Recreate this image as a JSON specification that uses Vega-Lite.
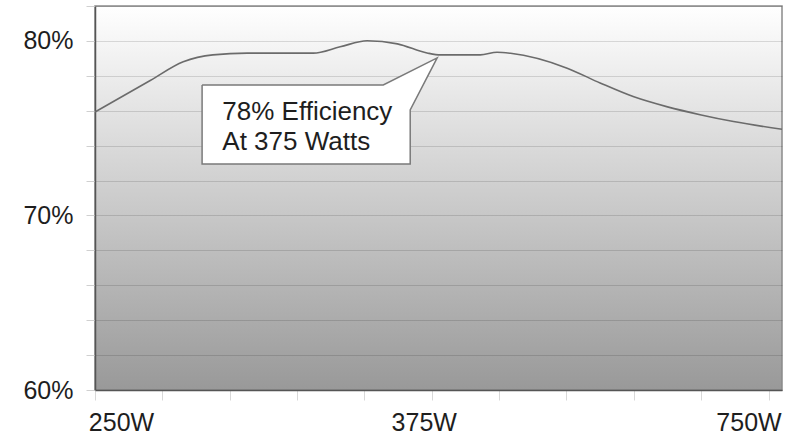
{
  "$schema": "https://vega.github.io/schema/vega-lite/v6.json",
  "width": 687,
  "height": 384,
  "autosize": "none",
  "padding": {"left": 95, "top": 6, "right": 18, "bottom": 44},
  "background": "white",
  "view": {
    "fill": {"gradient": "linear", "x1": 0, "y1": 0, "x2": 0, "y2": 1, "stops": [{"offset": 0, "color": "#ffffff"}, {"offset": 1, "color": "#999999"}]},
    "stroke": "#8a8a8a",
    "strokeWidth": 1.5
  },
  "config": {
    "font": "Liberation Sans",
    "axis": {"labelFont": "Liberation Sans", "labelColor": "#1e1e1e", "labelFontSize": 25, "title": null}
  },
  "datasets": {
    "curve": [
      {"x": 0, "eff": 75.93},
      {"x": 0.82, "eff": 77.73},
      {"x": 1.31, "eff": 78.8},
      {"x": 1.75, "eff": 79.2},
      {"x": 2.26, "eff": 79.3},
      {"x": 3.24, "eff": 79.3},
      {"x": 3.64, "eff": 79.66},
      {"x": 4.04, "eff": 80.01},
      {"x": 4.49, "eff": 79.83},
      {"x": 4.93, "eff": 79.31},
      {"x": 5.13, "eff": 79.2},
      {"x": 5.72, "eff": 79.2},
      {"x": 5.97, "eff": 79.35},
      {"x": 6.17, "eff": 79.29},
      {"x": 7.01, "eff": 78.44},
      {"x": 7.5, "eff": 77.59},
      {"x": 7.99, "eff": 76.81},
      {"x": 8.5, "eff": 76.22},
      {"x": 9.0, "eff": 75.76},
      {"x": 9.48, "eff": 75.38},
      {"x": 10.2, "eff": 74.94}
    ],
    "callout": [
      {"i": 0, "x": 1.59, "eff": 77.48},
      {"i": 1, "x": 4.28, "eff": 77.48},
      {"i": 2, "x": 5.08, "eff": 79.03},
      {"i": 3, "x": 4.68, "eff": 76.05},
      {"i": 4, "x": 4.68, "eff": 72.95},
      {"i": 5, "x": 1.59, "eff": 72.95},
      {"i": 6, "x": 1.59, "eff": 77.48}
    ],
    "labels": [
      {"x": 1.89, "eff": 75.47, "text": "78% Efficiency"},
      {"x": 1.89, "eff": 73.75, "text": "At 375 Watts"}
    ]
  },
  "layer": [
    {
      "data": {"name": "curve"},
      "mark": {"type": "line", "stroke": "#6b6b6b", "strokeWidth": 1.6, "interpolate": "monotone"},
      "encoding": {
        "x": {
          "field": "x", "type": "quantitative",
          "scale": {"domain": [0, 10.2], "nice": false, "zero": false},
          "axis": {
            "values": [0, 1, 2, 3, 4, 5, 6, 7, 8, 9, 10],
            "tickCount": 20,
            "labelExpr": "datum.value == 0 ? '250W' : datum.value == 5 ? '375W' : datum.value == 10 ? '750W' : ''",
            "labelOffset": {"condition": [{"test": "datum.value == 0", "value": 26}, {"test": "datum.value == 10", "value": -20}], "value": -8},
            "labelAlign": "center",
            "labelBaseline": "top",
            "labelPadding": 10,
            "labelFlush": false,
            "labelOverlap": false,
            "tickSize": 10,
            "tickColor": "#d8d8d8",
            "domainColor": "#555555",
            "domainWidth": 1.5,
            "grid": false
          }
        },
        "y": {
          "field": "eff", "type": "quantitative",
          "scale": {"domain": [60, 82], "nice": false, "zero": false},
          "axis": {
            "values": [60, 62, 64, 66, 68, 70, 72, 74, 76, 78, 80, 82],
            "tickCount": 20,
            "labelExpr": "datum.value % 10 == 0 ? datum.value + '%' : ''",
            "labelPadding": 13,
            "labelFlush": false,
            "labelOverlap": false,
            "tickSize": 9,
            "tickColor": "#d0d0d0",
            "domainColor": "#555555",
            "domainWidth": 1.5,
            "grid": true,
            "gridColor": "#000000",
            "gridOpacity": 0.13
          }
        }
      }
    },
    {
      "data": {"name": "callout"},
      "mark": {"type": "line", "fill": "white", "stroke": "#7a7a7a", "strokeWidth": 1.5, "interpolate": "linear"},
      "encoding": {
        "x": {"field": "x", "type": "quantitative"},
        "y": {"field": "eff", "type": "quantitative"},
        "order": {"field": "i"}
      }
    },
    {
      "data": {"name": "labels"},
      "mark": {"type": "text", "align": "left", "baseline": "alphabetic", "fontSize": 26, "color": "#1e1e1e"},
      "encoding": {
        "x": {"field": "x", "type": "quantitative"},
        "y": {"field": "eff", "type": "quantitative"},
        "text": {"field": "text"}
      }
    }
  ]
}
